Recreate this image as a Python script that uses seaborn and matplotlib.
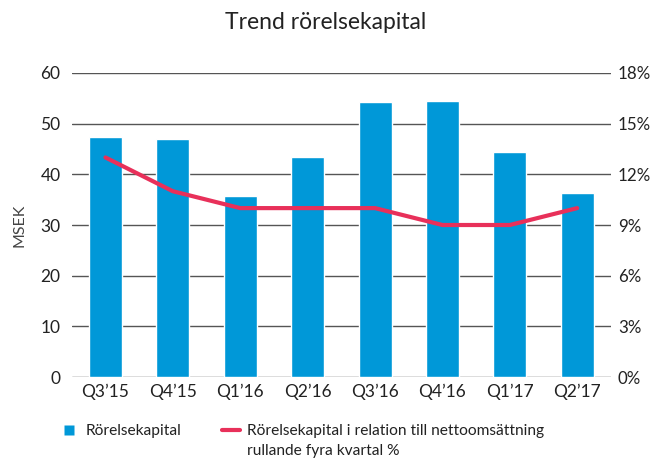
import matplotlib
matplotlib.use('Agg')
import matplotlib.pyplot as plt
import seaborn as sns
import pandas as pd
from matplotlib.ticker import FuncFormatter
from matplotlib.lines import Line2D

# Data
quarters = ['Q3’15', 'Q4’15', 'Q1’16', 'Q2’16', 'Q3’16', 'Q4’16', 'Q1’17', 'Q2’17']
kapital = [47.4, 46.9, 35.7, 43.4, 54.2, 54.4, 44.5, 36.4]
andel = [13, 11, 10, 10, 10, 9, 9, 10]

df = pd.DataFrame({'kvartal': quarters, 'msek': kapital, 'pct': andel})

sns.set_theme(style='white')
plt.rcParams['font.family'] = ['Lato', 'DejaVu Sans']

blue = '#0098d8'
red = '#e8305a'
txt = '#222222'

fig = plt.figure(figsize=(6.52, 4.59), dpi=100)
ax = fig.add_axes([0.110, 0.1786, 0.827, 0.6624])

sns.barplot(data=df, x='kvartal', y='msek', color=blue, width=0.49,
            saturation=1, ax=ax, zorder=3)
ax.set_ylim(0, 60)
ax.set_yticks(range(0, 61, 10))
ax.set_xlim(-0.5, len(quarters) - 0.5)
ax.grid(axis='y', color='#555555', linewidth=1, zorder=0)
ax.set_axisbelow(True)
for s in ax.spines.values():
    s.set_visible(False)
ax.set_xlabel('')
ax.set_ylabel('MSEK', fontsize=11.5, color='#444444', labelpad=10)
ax.tick_params(axis='both', length=0, labelsize=12.5, labelcolor=txt)
ax.tick_params(axis='x', pad=5)
ax.tick_params(axis='y', pad=8)

ax2 = ax.twinx()
sns.lineplot(data=df, x='kvartal', y='pct', color=red, linewidth=3,
             sort=False, ax=ax2)
ax2.set_ylim(0, 18)
ax2.set_yticks(range(0, 19, 3))
ax2.yaxis.set_major_formatter(FuncFormatter(lambda v, p: f'{int(v)}%'))
ax2.set_xlim(-0.5, len(quarters) - 0.5)
ax2.set_ylabel('')
ax2.set_xlabel('')
for s in ax2.spines.values():
    s.set_visible(False)
ax2.tick_params(axis='y', length=0, labelsize=12.2, labelcolor=txt, pad=5)
ax2.grid(False)

fig.text(0.5, 0.952, 'Trend rörelsekapital', ha='center', va='center',
         fontsize=16.5, color=txt)

handles = [Line2D([0], [0], color='none', marker='s', markersize=7.5,
                  markerfacecolor=blue, markeredgecolor='none'),
           Line2D([0], [0], color=red, linewidth=3)]
labels = ['Rörelsekapital',
          'Rörelsekapital i relation till nettoomsättning']
leg = fig.legend(handles, labels, loc='center left', bbox_to_anchor=(0.093, 0.061),
                 ncol=2, frameon=False, fontsize=11.2, handlelength=1.1,
                 handletextpad=0.5, columnspacing=2.65,
                 labelcolor=txt, borderaxespad=0, borderpad=0)

# second line of the long legend label, aligned under the first
fig.canvas.draw()
bb = leg.get_texts()[1].get_window_extent().transformed(fig.transFigure.inverted())
fig.text(bb.x0, 0.018, 'rullande fyra kvartal %', ha='left', va='center',
         fontsize=11.2, color=txt)

fig.savefig('out.png', dpi=100)
